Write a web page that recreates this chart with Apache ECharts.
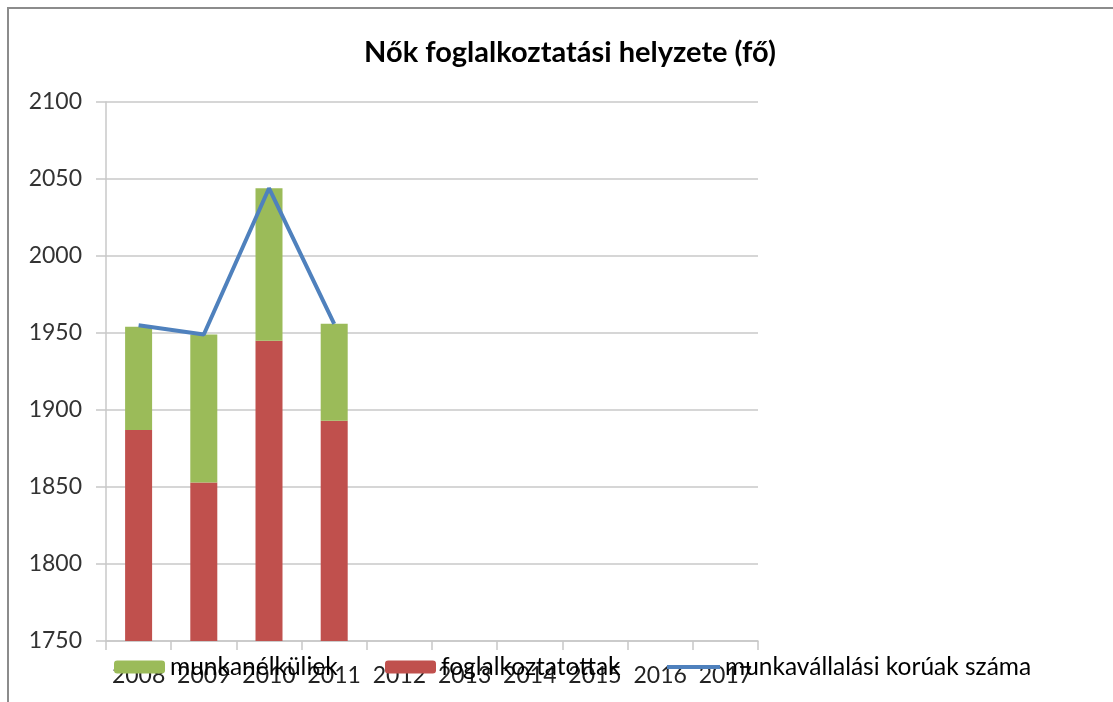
<!DOCTYPE html>
<html>
<head>
<meta charset="utf-8">
<script src="https://cdn.jsdelivr.net/npm/echarts@6/dist/echarts.min.js"></script>
<style>
html,body{margin:0;padding:0;background:#fff;}
#c{width:1113px;height:702px;}
</style>
</head>
<body>
<div id="c"></div>
<script>
const categories = ['2008','2009','2010','2011','2012','2013','2014','2015','2016','2017'];
const foglalkoztatottak = [1887, 1853, 1945, 1893];
const munkanelkuliek = [67, 96, 99, 63];
const munkavallalasiKoruak = [1955, 1949, 2044, 1956];
const yTicks = {min: 1750, max: 2100, interval: 50};

const FONT = 'Lato';
const legendText = {fontFamily: FONT, fontSize: 24.5, color: '#000', lineHeight: 26};
const chart = echarts.init(document.getElementById('c'), null, {renderer: 'canvas'});
chart.setOption({
  animation: false,
  backgroundColor: '#fff',
  graphic: [{
    type: 'rect', silent: true,
    shape: {x: 8, y: 8, width: 1300, height: 900},
    style: {fill: 'none', stroke: '#8c8c8c', lineWidth: 2}
  }],
  title: {
    text: 'Nők foglalkoztatási helyzete (fő)',
    left: 565, top: 33, textAlign: 'center',
    textStyle: {fontFamily: FONT, fontWeight: 'bold', fontSize: 29, color: '#000'}
  },
  grid: {left: 106, top: 102, width: 652, height: 539, containLabel: false},
  legend: [
    {data: ['munkanélküliek'], left: 109, top: 649, itemWidth: 51, itemHeight: 13, itemGap: 0,
     textStyle: legendText},
    {data: ['foglalkoztatottak'], left: 380, top: 649, itemWidth: 51, itemHeight: 13, itemGap: 0,
     textStyle: legendText},
    {data: ['munkavállalási korúak száma'], left: 662, top: 649,
     icon: 'path://M0,0H53V4H0Z', itemStyle: {color: '#4F81BD', borderWidth: 0},
     itemWidth: 53, itemHeight: 4, itemGap: 0, textStyle: legendText}
  ],
  xAxis: {
    type: 'category', data: categories, boundaryGap: true,
    axisLine: {show: true, lineStyle: {color: '#c8c8c8', width: 1.5}},
    axisTick: {show: true, length: 9, alignWithLabel: false, lineStyle: {color: '#c8c8c8', width: 1.5}},
    axisLabel: {interval: 0, margin: 23, fontFamily: FONT, fontSize: 23, color: '#222'}
  },
  yAxis: {
    type: 'value', min: yTicks.min, max: yTicks.max, interval: yTicks.interval,
    axisLine: {show: true, lineStyle: {color: '#c8c8c8', width: 1.5}},
    axisTick: {show: true, length: 10, inside: false, lineStyle: {color: '#c8c8c8', width: 1.5}},
    splitLine: {show: true, lineStyle: {color: '#c8c8c8', width: 1.5}},
    axisLabel: {margin: 24, fontFamily: FONT, fontSize: 23, color: '#333', formatter: v => String(v)}
  },
  series: [
    {name: 'foglalkoztatottak', type: 'bar', stack: 'total', barWidth: 27,
     data: foglalkoztatottak, itemStyle: {color: '#C0504D'}},
    {name: 'munkanélküliek', type: 'bar', stack: 'total', barWidth: 27,
     data: munkanelkuliek, itemStyle: {color: '#9BBB59'}},
    {name: 'munkavállalási korúak száma', type: 'line', data: munkavallalasiKoruak,
     symbol: 'none', showSymbol: false, legendIcon: 'rect',
     lineStyle: {color: '#4F81BD', width: 4}, itemStyle: {color: '#4F81BD'}, z: 5}
  ]
});
</script>
</body>
</html>
